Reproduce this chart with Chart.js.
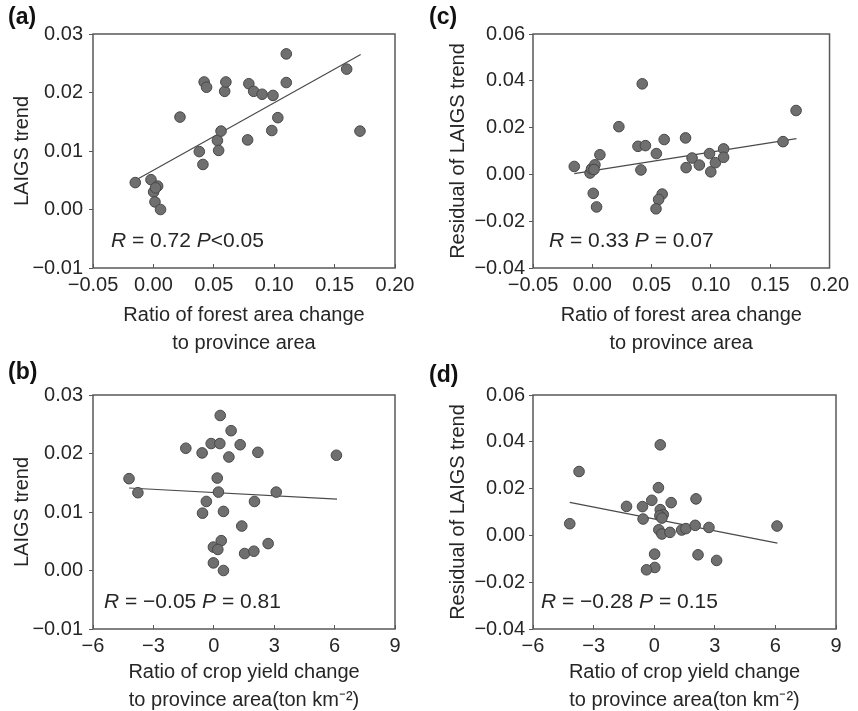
<!DOCTYPE html>
<html>
<head>
<meta charset="utf-8">
<script src="https://cdn.jsdelivr.net/npm/chart.js@4.4.1/dist/chart.umd.min.js"></script>
<style>
  html, body { margin: 0; padding: 0; background: #ffffff; width: 858px; height: 711px; overflow: hidden; }
  canvas { position: absolute; }
</style>
</head>
<body>
<canvas id="cA" width="425" height="357" style="left:0px;top:0px;width:425px;height:357px"></canvas>
<canvas id="cC" width="433" height="357" style="left:425px;top:0px;width:433px;height:357px"></canvas>
<canvas id="cB" width="425" height="356" style="left:0px;top:358px;width:425px;height:356px"></canvas>
<canvas id="cD" width="433" height="356" style="left:425px;top:358px;width:433px;height:356px"></canvas>
<script>
// ---------- data ----------
// (a) forest area ratio vs LAIgs trend
const forestA = [-0.015, -0.002, 0.0035, 0.0002, 0.0018, 0.0013, 0.0059, 0.022, 0.038, 0.041, 0.042, 0.044, 0.053, 0.054, 0.056, 0.059, 0.060, 0.078, 0.079, 0.083, 0.090, 0.098, 0.099, 0.103, 0.110, 0.110, 0.160, 0.171];
const laiA    = [0.0046, 0.0051, 0.0040, 0.0030, 0.0037, 0.0013, 0.0000, 0.0158, 0.0099, 0.0077, 0.0218, 0.0209, 0.0118, 0.0101, 0.0134, 0.0202, 0.0218, 0.0119, 0.0215, 0.0202, 0.0197, 0.0135, 0.0195, 0.0157, 0.0266, 0.0217, 0.0240, 0.0134];
const fitAx = [-0.013, 0.1716];
const fitAy = [0.0052, 0.0265];

// (c) forest area ratio vs residual of LAIgs trend
const forestC = [-0.0152, -0.0019, -0.0006, 0.0022, 0.0014, 0.0008, 0.0036, 0.0064, 0.0224, 0.0385, 0.0448, 0.0421, 0.0410, 0.0540, 0.0606, 0.0589, 0.0559, 0.0537, 0.0786, 0.0791, 0.0841, 0.0902, 0.0988, 0.0999, 0.1038, 0.1107, 0.1107, 0.1608, 0.1718];
const residC  = [0.0034, 0.0006, 0.0024, 0.0041, 0.0021, -0.0081, -0.0139, 0.0084, 0.0204, 0.0120, 0.0123, 0.0387, 0.0019, 0.0089, 0.0149, -0.0084, -0.0107, -0.0147, 0.0156, 0.0029, 0.0070, 0.0040, 0.0089, 0.0011, 0.0050, 0.0109, 0.0073, 0.0140, 0.0273];
const fitCx = [-0.0152, 0.1721];
const fitCy = [0.0003, 0.0153];

// (b) crop yield ratio vs LAIgs trend
const cropB = [-4.21, -3.77, -1.39, -0.58, -0.13, 0.30, 0.32, 0.86, 0.75, 1.31, 2.19, 6.09, 0.17, 0.23, -0.37, -0.56, 0.48, 2.02, 3.10, 1.39, 0.37, -0.02, 0.20, 1.53, 1.99, 2.70, -0.02, 0.48];
const laiB  = [0.0157, 0.0133, 0.0209, 0.0201, 0.0217, 0.0217, 0.0265, 0.0239, 0.0194, 0.0215, 0.0202, 0.0197, 0.0158, 0.0134, 0.0118, 0.0098, 0.0101, 0.0118, 0.0134, 0.0076, 0.0051, 0.0040, 0.0036, 0.0029, 0.0033, 0.0046, 0.0013, 0.0000];
const fitBx = [-4.21, 6.12];
const fitBy = [0.0141, 0.0122];

// (d) crop yield ratio vs residual of LAIgs trend
const cropD  = [-4.18, -3.72, -1.37, -0.58, -0.55, -0.12, 0.21, 0.30, 0.30, 0.45, 0.28, 0.38, 0.84, 0.23, 0.38, 0.78, 1.36, 1.57, 2.07, 2.03, 2.71, 6.08, 0.02, 0.03, -0.38, 2.17, 3.09];
const residD = [0.0050, 0.0273, 0.0124, 0.0123, 0.0070, 0.0150, 0.0204, 0.0387, 0.0110, 0.0089, 0.0084, 0.0074, 0.0140, 0.0024, 0.0006, 0.0013, 0.0023, 0.0029, 0.0156, 0.0043, 0.0034, 0.0040, -0.0080, -0.0137, -0.0147, -0.0083, -0.0107];
const fitDx = [-4.18, 6.10];
const fitDy = [0.0141, -0.0033];

// ---------- ticks ----------
const forestTicks = [-0.05, 0, 0.05, 0.10, 0.15, 0.20];
const forestTickLabels = ['\u22120.05', '0.00', '0.05', '0.10', '0.15', '0.20'];
const cropTicks = [-6, -3, 0, 3, 6, 9];
const cropTickLabels = ['\u22126', '\u22123', '0', '3', '6', '9'];
const laiTicks = [-0.01, 0, 0.01, 0.02, 0.03];
const laiTickLabels = ['\u22120.01', '0.00', '0.01', '0.02', '0.03'];
const residTicks = [-0.04, -0.02, 0, 0.02, 0.04, 0.06];
const residTickLabels = ['\u22120.04', '\u22120.02', '0.00', '0.02', '0.04', '0.06'];

// ---------- texts ----------
const forestTitle = ['Ratio of forest area change', 'to province area'];
const cropTitle = ['Ratio of crop yield change', 'to province area(ton km\u207B\u00B2)'];
const laiTitle = 'LAIGS trend';
const residTitle = 'Residual of LAIGS trend';
const statsA = [['R', true], [' = 0.72 ', false], ['P', true], ['<0.05', false]];
const statsC = [['R', true], [' = 0.33 ', false], ['P', true], [' = 0.07', false]];
const statsB = [['R', true], [' = \u22120.05 ', false], ['P', true], [' = 0.81', false]];
const statsD = [['R', true], [' = \u22120.28 ', false], ['P', true], [' = 0.15', false]];

// ---------- styling / build ----------
const FONT = "'Liberation Sans', Arial, Helvetica, sans-serif";
const AXIS = '#585858';
const TEXT = '#262626';

const framePlugin = {
  id: 'frame',
  afterDatasetsDraw(chart) {
    const a = chart.chartArea, ctx = chart.ctx;
    ctx.save();
    ctx.strokeStyle = AXIS;
    ctx.lineWidth = 1.5;
    ctx.strokeRect(a.left, a.top, a.right - a.left, a.bottom - a.top);
    ctx.restore();
  }
};

const statsPlugin = {
  id: 'stats',
  afterDraw(chart, args, opts) {
    if (!opts || !opts.parts) return;
    const a = chart.chartArea, ctx = chart.ctx;
    ctx.save();
    ctx.fillStyle = TEXT;
    ctx.textBaseline = 'middle';
    let x = a.left + opts.dx;
    const y = a.bottom - opts.dy;
    opts.parts.forEach(([t, it]) => {
      ctx.font = (it ? 'italic ' : '') + '21px ' + FONT;
      ctx.fillText(t, x, y);
      x += ctx.measureText(t).width;
    });
    ctx.restore();
  }
};

function pts(xs, ys) { return xs.map((x, i) => ({ x: x, y: ys[i] })); }

function build(id, o) {
  new Chart(document.getElementById(id), {
    type: 'scatter',
    data: {
      datasets: [
        {
          data: pts(o.xs, o.ys),
          pointRadius: 5.3,
          pointBackgroundColor: '#6f6f6f',
          pointBorderColor: '#474747',
          pointBorderWidth: 1,
          pointHoverRadius: 5.3
        },
        {
          type: 'line',
          data: pts(o.fx, o.fy),
          borderColor: '#4a4a4a',
          borderWidth: 1.2,
          pointRadius: 0,
          fill: false,
          tension: 0
        }
      ]
    },
    options: {
      responsive: false,
      animation: false,
      events: [],
      layout: { padding: o.pad },
      plugins: {
        legend: { display: false },
        tooltip: { enabled: false },
        title: {
          display: true,
          text: o.tag,
          align: 'start',
          color: '#111',
          font: { family: FONT, size: 23, weight: 'bold', lineHeight: 1.2 },
          padding: o.tagPad
        },
        stats: { parts: o.stats, dx: o.sdx, dy: 27 }
      },
      scales: {
        x: {
          type: 'linear',
          position: 'bottom',
          min: o.xt[0],
          max: o.xt[o.xt.length - 1],
          afterBuildTicks: s => { s.ticks = o.xt.map(v => ({ value: v })); },
          afterFit: s => { s.height = o.xh; },
          grid: { display: true, drawOnChartArea: false, drawTicks: true, tickLength: -4, color: AXIS, lineWidth: 1 },
          border: { display: false },
          ticks: {
            color: TEXT,
            font: { family: FONT, size: 20 },
            padding: 9,
            maxRotation: 0,
            autoSkip: false,
            callback: (v, i) => o.xl[i]
          },
          title: {
            display: true,
            text: o.xTitle,
            color: TEXT,
            font: { family: FONT, size: 20, lineHeight: 1.4 },
            padding: { top: 0, bottom: 0 }
          }
        },
        y: {
          type: 'linear',
          position: 'left',
          min: o.yt[0],
          max: o.yt[o.yt.length - 1],
          afterBuildTicks: s => { s.ticks = o.yt.map(v => ({ value: v })); },
          afterFit: s => { s.width = o.yw; },
          grid: { display: true, drawOnChartArea: false, drawTicks: true, tickLength: 4, color: AXIS, lineWidth: 1 },
          border: { display: false },
          ticks: {
            color: TEXT,
            font: { family: FONT, size: 20 },
            padding: o.ypad,
            autoSkip: false,
            callback: (v, i) => o.yl[i]
          },
          title: {
            display: true,
            text: o.yTitle,
            color: TEXT,
            font: { family: FONT, size: 20, lineHeight: 1.2 },
            padding: { top: o.ytp, bottom: 0 }
          }
        }
      }
    },
    plugins: [framePlugin, statsPlugin]
  });
}

build('cA', {
  xs: forestA, ys: laiA, fx: fitAx, fy: fitAy,
  xt: forestTicks, xl: forestTickLabels, yt: laiTicks, yl: laiTickLabels,
  xTitle: forestTitle, yTitle: laiTitle, tag: '(a)', stats: statsA, sdx: 18,
  pad: { left: 8, right: 30, top: 0, bottom: 0 }, tagPad: { top: 4.2, bottom: 2.2 },
  xh: 89, yw: 85, ypad: 6, ytp: 2
});
build('cC', {
  xs: forestC, ys: residC, fx: fitCx, fy: fitCy,
  xt: forestTicks, xl: forestTickLabels, yt: residTicks, yl: residTickLabels,
  xTitle: forestTitle, yTitle: residTitle, tag: '(c)', stats: statsC, sdx: 16,
  pad: { left: 4, right: 22, top: 0, bottom: 0 }, tagPad: { top: 4.2, bottom: 2.2 },
  xh: 89, yw: 104, ypad: 4, ytp: 17
});
build('cB', {
  xs: cropB, ys: laiB, fx: fitBx, fy: fitBy,
  xt: cropTicks, xl: cropTickLabels, yt: laiTicks, yl: laiTickLabels,
  xTitle: cropTitle, yTitle: laiTitle, tag: '(b)', stats: statsB, sdx: 11,
  pad: { left: 8, right: 30, top: 0, bottom: 0 }, tagPad: { top: 1.2, bottom: 8.2 },
  xh: 85, yw: 85, ypad: 6, ytp: 2
});
build('cD', {
  xs: cropD, ys: residD, fx: fitDx, fy: fitDy,
  xt: cropTicks, xl: cropTickLabels, yt: residTicks, yl: residTickLabels,
  xTitle: cropTitle, yTitle: residTitle, tag: '(d)', stats: statsD, sdx: 8,
  pad: { left: 4, right: 22, top: 0, bottom: 0 }, tagPad: { top: 4.2, bottom: 5.2 },
  xh: 85, yw: 104, ypad: 4, ytp: 17
});
</script>
</body>
</html>
